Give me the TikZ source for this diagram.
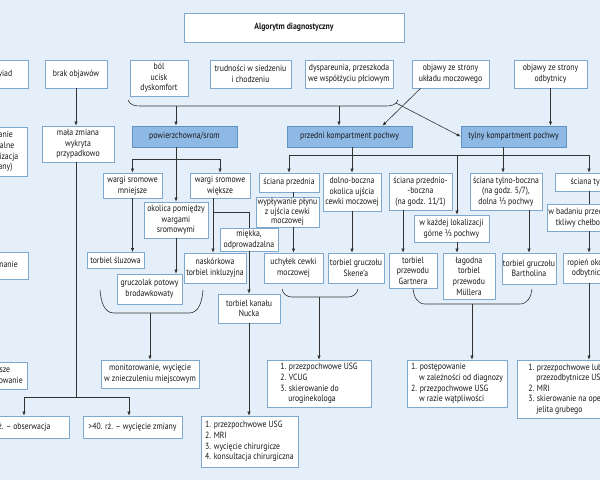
\documentclass[tikz,border=0pt]{standalone}
\usepackage{fontspec}
\setmainfont{PT Sans}[FakeStretch=0.86]
\newfontfamily\fracfont{DejaVu Sans}[FakeStretch=0.8]
\usetikzlibrary{arrows.meta}
\definecolor{bgblue}{RGB}{229,239,249}
\definecolor{boxline}{RGB}{126,168,206}
\definecolor{compfill}{RGB}{141,185,228}
\definecolor{compline}{RGB}{96,146,196}
\definecolor{lineclr}{RGB}{50,50,50}
\definecolor{txt}{RGB}{25,22,23}
\newcommand{\third}{{\fracfont ⅓}}
\newcommand{\ind}{\hphantom{1.~}}
\tikzset{
  box/.style={draw=boxline, fill=white, line width=0.7pt, align=center,
    inner sep=1pt, text=txt, font=\fontsize{9}{10.6}\selectfont},
  dims/.style 2 args={minimum width=#1, minimum height=#2},
  compbox/.style={box, fill=compfill, draw=compline},
  listbox/.style={box, align=left},
  link/.style={draw=lineclr, line width=0.6pt},
  arr/.style={link, -{Latex[length=4pt,width=3.4pt]}},
}
\begin{document}
\begin{tikzpicture}[x=1pt, y=-1pt]
  \path [use as bounding box, fill=bgblue] (0,0) rectangle (600,480);
  \clip (0,0) rectangle (600,480);

  % top row
  \node [box, dims={220}{29}, font=\bfseries\fontsize{9}{10.6}\selectfont] (title) at (294,27.5) {Algorytm diagnostyczny};

  \node [box, dims={58}{28}, anchor=east] (wywiad) at (29,74) {wywiad};
  \node [box, dims={62}{28}] (brak) at (76,74) {brak objawów};
  \node [box, dims={58}{36}] (bol) at (159,78) {ból\\ucisk\\dyskomfort};
  \node [box, dims={81}{28}] (trud) at (250.5,74) {trudności w siedzeniu\\i chodzeniu};
  \node [box, dims={88}{28}] (dysp) at (349,74) {dyspareunia, przeszkoda\\we współżyciu płciowym};
  \node [box, dims={77}{28}] (uklad) at (450.5,74) {objawy ze strony\\układu moczowego};
  \node [box, dims={73}{28}] (odbyt) at (550.5,74) {objawy ze strony\\odbytnicy};

  % compartments
  \node [compbox, dims={105}{21}] (srom) at (184.5,136.5) {powierzchowna/srom};
  \node [compbox, dims={125}{21}] (przedni) at (349.5,136.5) {przedni kompartment pochwy};
  \node [compbox, dims={105}{21}] (tylny) at (513.5,136.5) {tylny kompartment pochwy};

  % left column
  \node [box, dims={56}{49}, anchor=east] (badanie) at (28,151.5) {badanie\\fizykalne\\(lokalizacja\\zmiany)};
  \node [box, dims={62}{27}, anchor=east] (rozpozn) at (29,265.5) {rozpoznanie};
  \node [box, dims={56}{27}, anchor=east] (dalsze) at (28,375.5) {dalsze\\postępowanie};
  \node [box, dims={72}{36}] (mala) at (78,144) {mała zmiana\\wykryta\\przypadkowo};
  \node [box, dims={110}{22}, anchor=east] (mlodsze) at (70,427) {<40. rż. – obserwacja};
  \node [box, dims={99}{22}] (starsze) at (132.5,427) {>40. rż. – wycięcie zmiany};

  % powierzchowna/srom
  \node [box, dims={59}{25}] (mniejsze) at (132.5,185.5) {wargi sromowe\\mniejsze};
  \node [box, dims={64}{36}] (okolica) at (176,220) {okolica pomiędzy\\wargami\\sromowymi};
  \node [box, dims={60}{25}] (wieksze) at (220,185.5) {wargi sromowe\\większe};
  \node [box, dims={57}{16}] (sluzowa) at (115.5,260.5) {torbiel śluzowa};
  \node [box, dims={65}{30}] (potowy) at (149.5,289) {gruczolak potowy\\brodawkowaty};
  \node [box, dims={62}{30}] (naskorek) at (215,268) {naskórkowa\\torbiel inkluzyjna};
  \node [box, dims={58}{23}] (miekka) at (249,239.5) {miękka,\\odprowadzalna};
  \node [box, dims={62}{29}] (nucka) at (249,308.5) {torbiel kanału\\Nucka};
  \node [box, dims={98}{28}] (monitor) at (150,374) {monitorowanie, wycięcie\\w znieczuleniu miejscowym};
  \node [listbox, dims={97}{51}] (nuckalist) at (249.5,441.5) {1. przezpochwowe USG\\2. MRI\\3. wycięcie chirurgicze\\4. konsultacja chirurgiczna};

  % przedni kompartment
  \node [box, dims={60}{19}] (sprzed) at (289,182.5) {ściana przednia};
  \node [box, dims={63}{30}, font=\fontsize{9}{9.3}\selectfont] (wyplyw) at (287.5,212) {wypływanie płynu\\z ujścia cewki\\moczowej};
  \node [box, dims={58}{38}] (dolno) at (352,192) {dolno-boczna\\okolica ujścia\\cewki moczowej};
  \node [box, dims={59}{30}] (uchylek) at (293.5,268) {uchyłek cewki\\moczowej};
  \node [box, dims={56}{30}] (skene) at (356,268) {torbiel gruczołu\\Skene’a};
  \node [listbox, dims={104}{47}] (vcug) at (319,383.5) {1. przezpochwowe USG\\2. VCUG\\3. skierowanie do\\\ind uroginekologa};

  % tylny kompartment
  \node [box, dims={63}{37}] (przb) at (420.5,191.5) {ściana przednio-\\-boczna\\(na godz. 11/1)};
  \node [box, dims={75}{27}] (kazdej) at (451.5,228.5) {w każdej lokalizacji\\górne \third{} pochwy};
  \node [box, dims={72}{37}] (tylnob) at (506,191.5) {ściana tylno-boczna\\(na godz. 5/7),\\dolna \third{} pochwy};
  \node [box, dims={70}{18}, anchor=west] (stylna) at (555,182) {ściana tylna};
  \node [box, dims={86}{27}, anchor=west] (badaniu) at (547,217.5) {w badaniu przedmiotowym\\tkliwy chełbotliwy guz};
  \node [box, dims={48}{35}] (gartner) at (413,270.5) {torbiel\\przewodu\\Gartnera};
  \node [box, dims={52}{46}] (muller) at (469,276) {łagodna\\torbiel\\przewodu\\Müllera};
  \node [box, dims={54}{31}] (bartholin) at (529,268.5) {torbiel gruczołu\\Bartholina};
  \node [box, dims={52}{30}, anchor=west, inner xsep=4pt] (ropien) at (563,268) {ropień około-\\odbytniczy};
  \node [listbox, dims={100}{47}] (postep) at (457,383.5) {1. postępowanie\\\ind w zależności od diagnozy\\2. przezpochwowe USG\\\ind w razie wątpliwości};
  \node [listbox, minimum height=58, anchor=west, inner xsep=11pt] (odbytlist) at (517,389) {1. przezpochwowe lub\\\ind przezodbytnicze USG\\2. MRI\\3. skierowanie na operację\\\ind jelita grubego};

  % connectors, top
  \coordinate (braceS) at (176,106);
  \coordinate (braceP) at (339,106);
  \coordinate (braceT) at (396,103);
  \draw [link] (128,100) to[out=-70,in=180] (140,106) -- (386,106) to[out=0,in=-110] (398,100);
  \draw [arr] (braceS) -- (braceS |- srom.north);
  \draw [arr] (braceP) -- (braceP |- przedni.north);
  \draw [arr] (braceT) -- (tylny.west);
  \draw [arr] ([xshift=-30pt]uklad.south) -- ([xshift=33pt]przedni.north);
  \draw [arr] (odbyt) -- (odbyt |- tylny.north);

  % left column
  \coordinate (ageJ) at (76,397);
  \coordinate (ageL) at (24,397);
  \coordinate (ageR) at (129,397);
  \draw [arr] (brak) -- (brak |- mala.north);
  \draw [link] (mala.south -| ageJ) -- (ageJ);
  \draw [link] (ageL) -- (ageR);
  \draw [arr] (ageL) -- (ageL |- mlodsze.north);
  \draw [arr] (ageR) -- (ageR |- starsze.north);

  % powierzchowna/srom
  \coordinate (sJ) at (176,159);
  \coordinate (wJ) at (213,212);
  \coordinate (sBr) at (150,313);
  \draw [link] (srom.south -| sJ) -- (sJ);
  \draw [arr] (sJ) -- (okolica);
  \draw [arr] (sJ) -| (mniejsze.north);
  \draw [arr] (sJ) -| (wieksze.north);
  \draw [arr] (mniejsze) -- (mniejsze |- sluzowa.north);
  \draw [arr] (okolica) -- (okolica |- potowy.north);
  \draw [arr] (wieksze.south -| wJ) -- (wJ |- naskorek.north);
  \draw [link] (wJ) -| (miekka.north);
  \draw [arr] (miekka) -- (miekka |- nucka.north);
  \draw [arr] (nucka) -- (nucka |- nuckalist.north);
  \draw [link] (100,290) to[out=-85,in=180] (114,313) -- (189,313) to[out=0,in=-95] (203,290);
  \draw [arr] (sBr) -- (monitor);

  % przedni and tylny
  \coordinate (pJ) at (352,155);
  \coordinate (kJ) at (457,155);
  \coordinate (tJ) at (503,155);
  \coordinate (gJ) at (403,230);
  \coordinate (rJ) at (589,230);
  \coordinate (pBr) at (319,297);
  \coordinate (tBr) at (472,304);
  \draw [link] (przedni.south -| pJ) -- (pJ);
  \draw [link] (tylny.south -| tJ) -- (tJ);
  \draw [link] (pJ) -- (tJ);
  \draw [arr] (pJ) -| (sprzed.north);
  \draw [arr] (pJ) -- (dolno);
  \draw [arr] (kJ) -- (kJ |- kazdej.north);
  \draw [arr] (tJ) -- (tJ |- tylnob.north);
  \draw [arr] (tJ) -| (stylna.north -| rJ);

  \draw [link] (sprzed.south -| uchylek) -- (wyplyw.north -| uchylek);
  \draw [arr] (wyplyw.south -| uchylek) -- (uchylek);
  \draw [arr] (dolno) -- (dolno |- skene.north);
  \draw [link] (282,289) to[out=-80,in=180] (292,297) -- (348,297) to[out=0,in=-100] (358,289);
  \draw [arr] (pBr) -- (vcug);

  \draw [arr] (przb.south -| gJ) -- (gartner.north -| gJ);
  \draw [arr] (kazdej.south -| kJ) -- (muller.north -| kJ);
  \draw [arr] (tylnob.south -| bartholin) -- (bartholin);
  \draw [link] (stylna.south -| rJ) -- (badaniu.north -| rJ);
  \draw [arr] (badaniu.south -| rJ) -- (ropien.north -| rJ);
  \draw [arr] (ropien.south -| rJ) -- (odbytlist.north -| rJ);
  \draw [link] (413,289) to[out=-85,in=180] (425,304) -- (520,304) to[out=0,in=-95] (532,289);
  \draw [arr] (tBr) -- (tBr |- postep.north);
\end{tikzpicture}
\end{document}
